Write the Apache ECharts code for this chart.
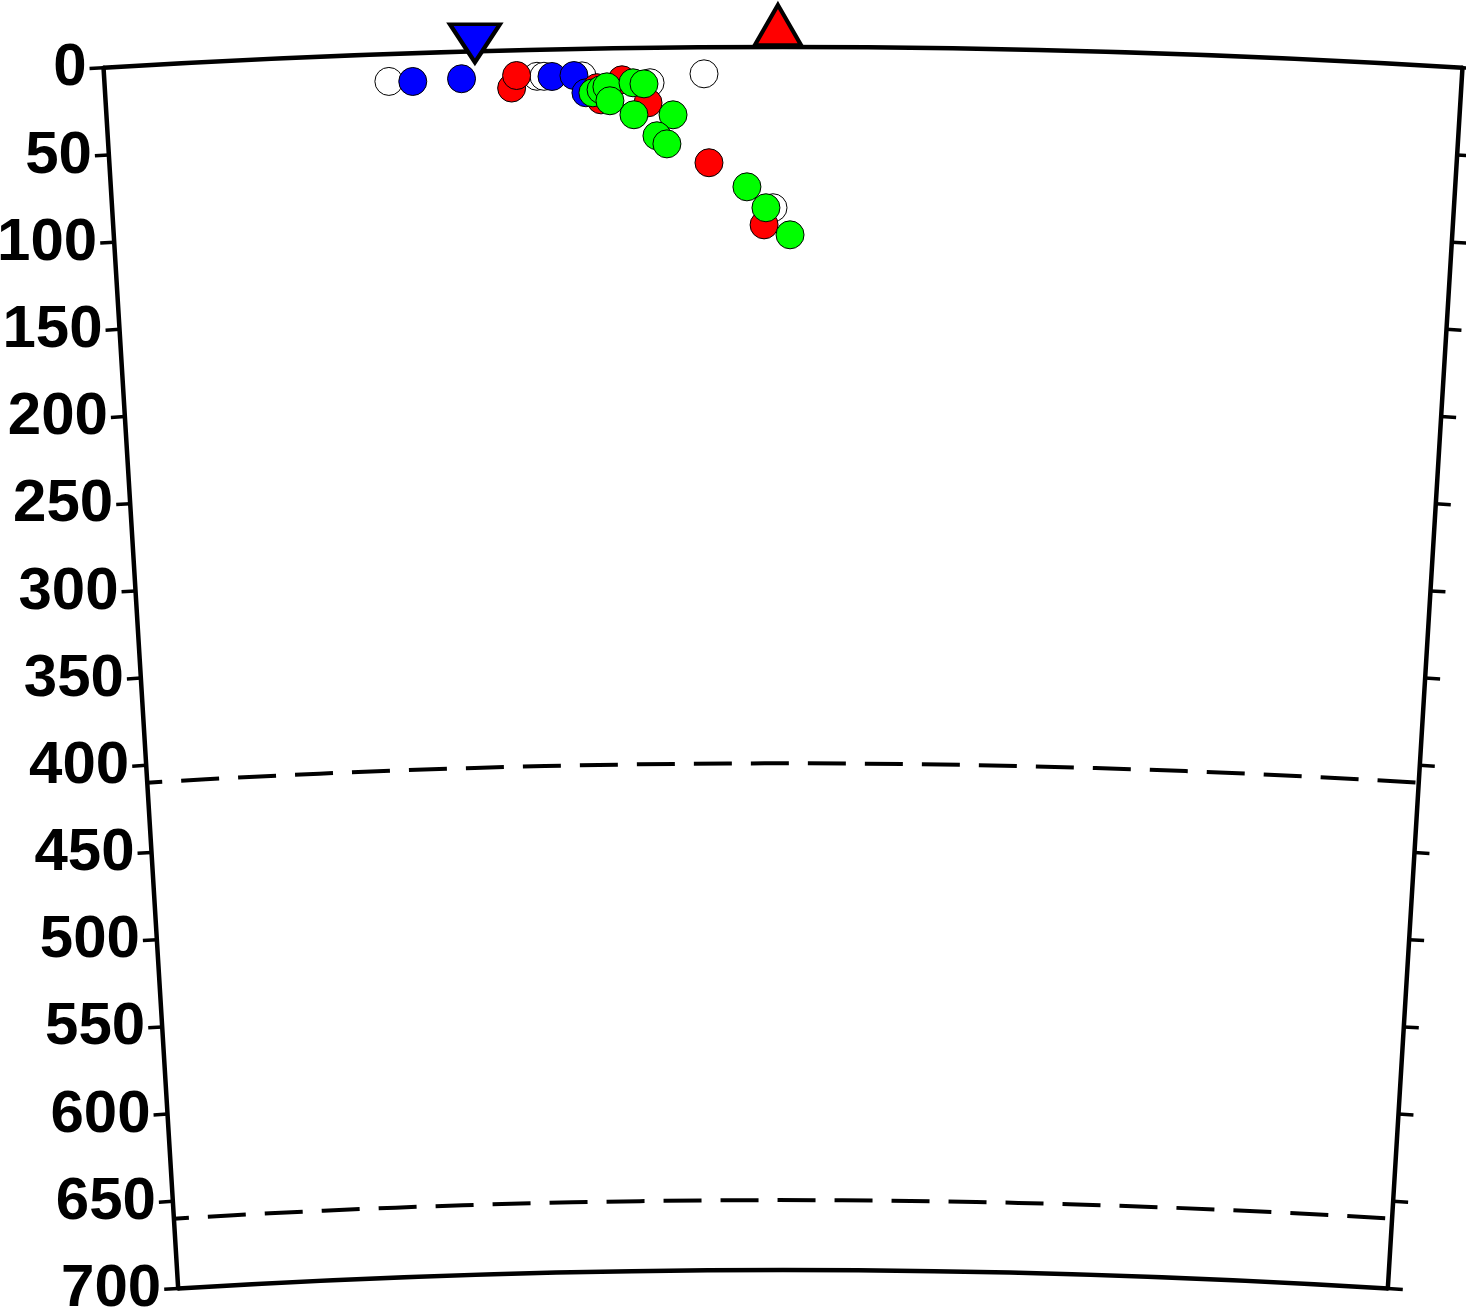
<!DOCTYPE html>
<html>
<head>
<meta charset="utf-8">
<script src="https://cdn.jsdelivr.net/npm/echarts@6/dist/echarts.min.js"></script>
<style>
html,body{margin:0;padding:0;background:#ffffff;}
#chart{width:1466px;height:1314px;}
</style>
</head>
<body>
<div id="chart"></div>
<script>
// ---- data (distance along profile in km, depth in km) ----
const depthRange = [0, 700];
const depthInterval = 50;
const distRange = [0, 778];
const frameDepths = [0, 700];
const discontinuityDepths = [410, 660];

// [distance, depth]
const whiteEvents = [[162.9,15.7],[247.9,15.2],[251.9,15.3],[273.7,15.5],[312.7,20.0],[343.7,15.2],[383.2,92.0]];
const blueEvents  = [[176.6,16.2],[204.6,15.5],[256.5,15.5],[269.1,15.2],[275.8,25.2]];
const redEvents   = [[233.2,21.6],[236.2,14.5],[282.2,22.4],[284.4,29.4],[296.6,18.1],[311.4,31.5],[346.2,66.1],[378.0,101.8]];
const greenEvents = [[279.8,25.3],[284.5,23.6],[287.9,22.0],[289.5,30.0],[302.9,19.9],[309.2,20.6],[303.2,38.2],[325.7,38.5],[316.3,50.4],[322.0,55.1],[368.1,80.0],[379.1,92.0],[393.1,107.5]];
const trench  = [[212.7, 0]];
const volcano = [[386.1, 0]];

// polar data are [radius(depth), angle(distance)]
const toPolar = arr => arr.map(p => [p[1], p[0]]);

const chart = echarts.init(document.getElementById('chart'), null, {renderer: 'canvas'});

const LW = 4.5;

function arcItem(dashed) {
  return function (params, api) {
    const cs = params.coordSys;
    const depth = api.value(0);
    const a = api.coord([depth, distRange[0]]);
    const b = api.coord([depth, distRange[1]]);
    const r = Math.hypot(a[0] - cs.cx, a[1] - cs.cy);
    return {
      type: 'arc',
      silent: true,
      shape: {
        cx: cs.cx, cy: cs.cy, r: r,
        startAngle: Math.atan2(a[1] - cs.cy, a[0] - cs.cx),
        endAngle: Math.atan2(b[1] - cs.cy, b[0] - cs.cx),
        clockwise: true
      },
      style: {
        fill: 'none', stroke: '#000', lineWidth: dashed ? 4 : LW,
        lineDash: dashed ? [38, 19] : null,
        lineDashOffset: 23
      }
    };
  };
}

const CENTER = [783, 11177];
const RADII = [9907, 11130];
const FONT = '"Liberation Sans", Arial, Helvetica, sans-serif';

const hiddenAngle = {
  axisLine: {show: false}, axisTick: {show: false},
  axisLabel: {show: false}, splitLine: {show: false}
};

const circleStyle = (c) => ({color: c, borderColor: '#000', borderWidth: 1, opacity: 1});

const option = {
  animation: false,
  backgroundColor: '#ffffff',
  polar: [
    {center: CENTER, radius: RADII},
    {center: CENTER, radius: RADII}
  ],
  angleAxis: [
    Object.assign({polarIndex: 0, type: 'value', min: distRange[0], max: distRange[1],
      startAngle: 93.5, endAngle: 86.5, clockwise: true}, hiddenAngle),
    Object.assign({polarIndex: 1, type: 'value', min: distRange[0], max: distRange[1],
      startAngle: 86.5, endAngle: 93.5, clockwise: false}, hiddenAngle)
  ],
  radiusAxis: [
    {
      polarIndex: 0, type: 'value', min: depthRange[0], max: depthRange[1],
      interval: depthInterval, inverse: true,
      axisLine: {show: true, lineStyle: {color: '#000', width: LW}},
      axisTick: {show: true, length: 14, lineStyle: {color: '#000', width: 3.5}},
      axisLabel: {show: true, margin: 17, fontSize: 60, fontWeight: 'bold',
        fontFamily: FONT, color: '#000', padding: [4, 0, 0, 0]},
      splitLine: {show: false}
    },
    {
      polarIndex: 1, type: 'value', min: depthRange[0], max: depthRange[1],
      interval: depthInterval, inverse: true,
      axisLine: {show: true, lineStyle: {color: '#000', width: LW}},
      axisTick: {show: true, length: -15, lineStyle: {color: '#000', width: 3.5}},
      axisLabel: {show: false},
      splitLine: {show: false}
    }
  ],
  series: [
    {type: 'custom', coordinateSystem: 'polar', polarIndex: 0, z: 1,
      data: frameDepths.map(d => [d, distRange[0]]), renderItem: arcItem(false)},
    {type: 'custom', coordinateSystem: 'polar', polarIndex: 0, z: 1,
      data: discontinuityDepths.map(d => [d, distRange[0]]), renderItem: arcItem(true)},
    {type: 'scatter', coordinateSystem: 'polar', polarIndex: 0, z: 3,
      symbol: 'circle', symbolSize: 28, itemStyle: circleStyle('#ffffff'), data: toPolar(whiteEvents)},
    {type: 'scatter', coordinateSystem: 'polar', polarIndex: 0, z: 4,
      symbol: 'circle', symbolSize: 28, itemStyle: circleStyle('#0000ff'), data: toPolar(blueEvents)},
    {type: 'scatter', coordinateSystem: 'polar', polarIndex: 0, z: 5,
      symbol: 'circle', symbolSize: 28, itemStyle: circleStyle('#ff0000'), data: toPolar(redEvents)},
    {type: 'scatter', coordinateSystem: 'polar', polarIndex: 0, z: 6,
      symbol: 'circle', symbolSize: 28, itemStyle: circleStyle('#00ff00'), data: toPolar(greenEvents)},
    {type: 'scatter', coordinateSystem: 'polar', polarIndex: 0, z: 7,
      symbol: 'path://M0,0 L2,0 L1,2 Z', symbolKeepAspect: false, symbolSize: [50, 38], symbolOffset: [0, -8],
      itemStyle: {color: '#0000ff', borderColor: '#000', borderWidth: 4, opacity: 1}, data: toPolar(trench)},
    {type: 'scatter', coordinateSystem: 'polar', polarIndex: 0, z: 7,
      symbol: 'triangle', symbolSize: [46, 40], symbolOffset: [0, -22],
      itemStyle: {color: '#ff0000', borderColor: '#000', borderWidth: 4, opacity: 1}, data: toPolar(volcano)}
  ]
};
chart.setOption(option);
</script>
</body>
</html>
